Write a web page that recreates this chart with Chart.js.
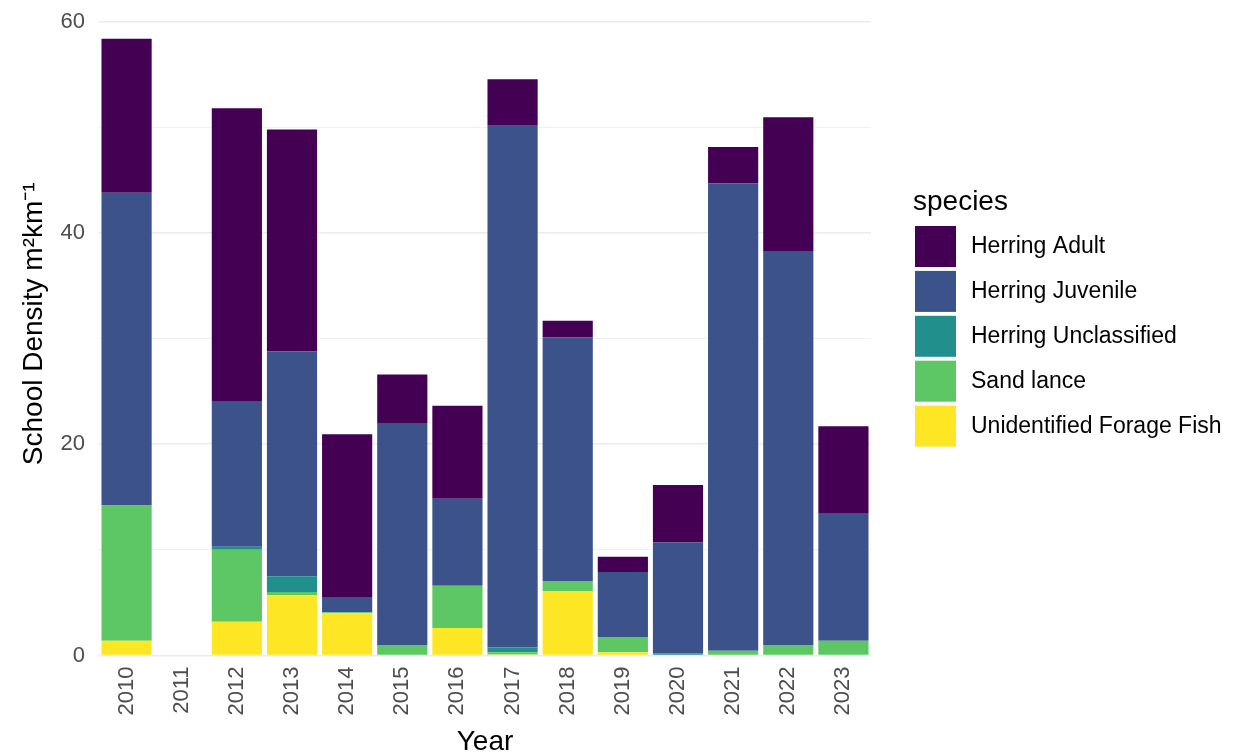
<!DOCTYPE html>
<html>
<head>
<meta charset="utf-8">
<script src="https://cdn.jsdelivr.net/npm/chart.js@4/dist/chart.umd.min.js"></script>
<style>
  html, body { margin: 0; padding: 0; background: #fff; }
  #wrap { width: 1236px; height: 755px; position: relative; }
</style>
</head>
<body>
<div id="wrap"><canvas id="c" width="1236" height="755"></canvas></div>
<script>
const years = ['2010','2011','2012','2013','2014','2015','2016','2017','2018','2019','2020','2021','2022','2023'];
const unidentifiedForageFish = [1.4, 0, 3.2, 5.7, 4.0, 0,   2.6, 0.1, 6.1, 0.3, 0,   0,    0,    0];
const sandLance              = [12.8,0, 6.8, 0.3, 0.1, 1.0, 4.0, 0.2, 0.95,1.45,0,   0.45, 1.0,  1.4];
const herringUnclassified    = [0,   0, 0.3, 1.5, 0,   0,   0,   0.45,0,   0,   0.2, 0,    0,    0];
const herringJuvenile        = [29.6,0, 13.8,21.3,1.45,21.0,8.25,49.4,23.05,6.15,10.5,44.25,37.3,12.1];
const herringAdult           = [14.6,0, 27.7,21.0,15.4,4.6, 8.8, 4.4, 1.6, 1.45,5.45,3.45, 12.65,8.2];
const speciesNames = ['Herring Adult','Herring Juvenile','Herring Unclassified','Sand lance','Unidentified Forage Fish'];
const speciesColors = ['#440154','#3B528B','#21908C','#5DC863','#FDE725'];
const yTicks = [0, 20, 40, 60];

const FONT = '"Liberation Sans", Arial, sans-serif';

const datasets = [
  { label: speciesNames[4], data: unidentifiedForageFish, backgroundColor: speciesColors[4] },
  { label: speciesNames[3], data: sandLance, backgroundColor: speciesColors[3] },
  { label: speciesNames[2], data: herringUnclassified, backgroundColor: speciesColors[2] },
  { label: speciesNames[1], data: herringJuvenile, backgroundColor: speciesColors[1] },
  { label: speciesNames[0], data: herringAdult, backgroundColor: speciesColors[0] }
].map(d => Object.assign(d, { barPercentage: 0.91, categoryPercentage: 1.0, borderWidth: 0 }));

const overlay = {
  id: 'overlay',
  afterDraw(chart) {
    const ctx = chart.ctx;
    const ca = chart.chartArea;
    ctx.save();
    ctx.fillStyle = '#000';
    ctx.font = '28px ' + FONT;
    ctx.textAlign = 'center';
    ctx.textBaseline = 'middle';
    ctx.fillText('Year', (ca.left + ca.right) / 2, 742);
    ctx.save();
    ctx.translate(34, (ca.top + ca.bottom) / 2 - 8);
    ctx.rotate(-Math.PI / 2);
    ctx.fillText('School Density m\u00B2km\u207B\u00B9', 0, 0);
    ctx.restore();
    ctx.textAlign = 'left';
    ctx.font = '28px ' + FONT;
    ctx.fillText('species', 913, 202);
    ctx.font = '23px ' + FONT;
    for (let i = 0; i < speciesNames.length; i++) {
      const y = 226 + i * 44.9;
      ctx.fillStyle = speciesColors[i];
      ctx.fillRect(915, y, 41, 41);
      ctx.fillStyle = '#000';
      ctx.fillText(speciesNames[i], 971, y + 21);
    }
    ctx.restore();
  }
};

new Chart(document.getElementById('c'), {
  type: 'bar',
  data: { labels: years, datasets },
  options: {
    responsive: false,
    animation: false,
    devicePixelRatio: 1,
    layout: { padding: { left: 0, right: 365, top: 8, bottom: 0 } },
    plugins: { legend: { display: false }, tooltip: { enabled: false } },
    scales: {
      x: {
        stacked: true,
        offset: true,
        grid: { display: false, drawTicks: false },
        border: { display: false },
        ticks: {
          color: '#4d4d4d',
          font: { family: FONT, size: 22 },
          maxRotation: 90, minRotation: 90,
          padding: 11,
          autoSkip: false
        },
        afterFit(s) { s.height = 755 - 655.5; s.paddingLeft = 0; s.paddingRight = 0; }
      },
      y: {
        stacked: true,
        min: 0,
        max: 61.3,
        border: { display: false },
        grid: {
          drawTicks: false,
          color: ctx => (ctx.tick && ctx.tick.value % 20 === 0) ? '#EBEBEB' : '#F2F2F2',
          lineWidth: ctx => (ctx.tick && ctx.tick.value % 20 === 0) ? 1.5 : 1
        },
        ticks: {
          stepSize: 10,
          includeBounds: false,
          color: '#4d4d4d',
          font: { family: FONT, size: 22 },
          padding: 14,
          callback: v => yTicks.includes(v) ? String(v) : ''
        },
        afterFit(s) { s.width = 99; s.paddingTop = 0; s.paddingBottom = 0; }
      }
    }
  },
  plugins: [overlay]
});
</script>
</body>
</html>
